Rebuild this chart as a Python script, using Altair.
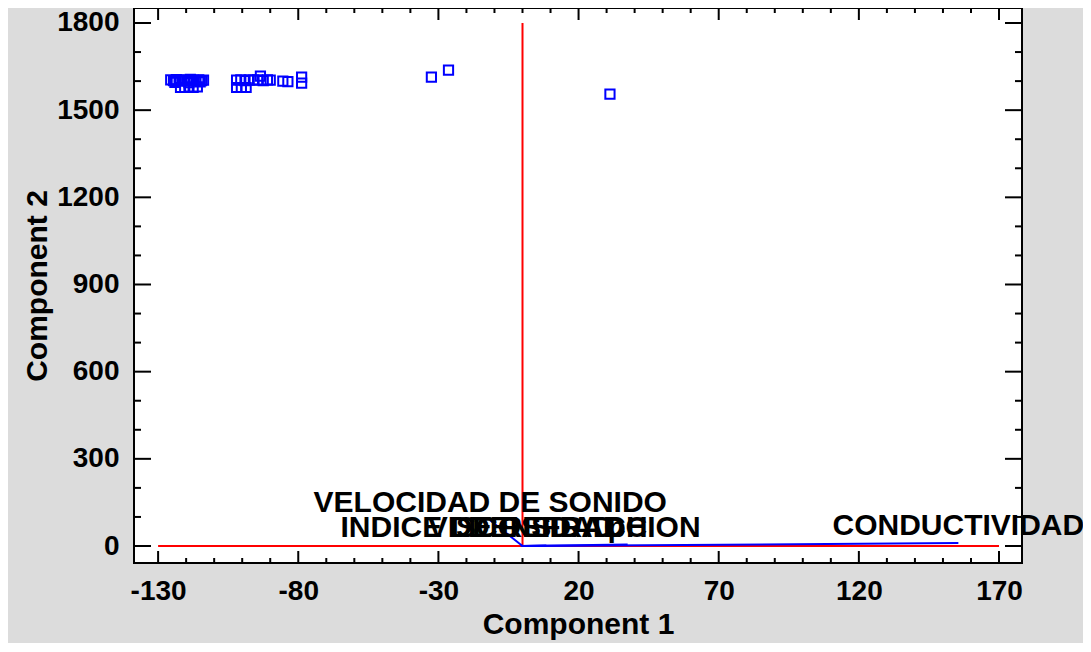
import altair as alt
import pandas as pd

# ---- observation scores (Component 1, Component 2) ----
comp1 = [-125.5, -124.5, -123.5, -122.5, -121.5, -120.5, -119.5, -118.5, -117.5, -116.5, -115.5, -114.5, -113.8,
         -124.0, -119.0, -115.0,
         -122.0, -120.5, -119.0, -117.5, -116.0,
         -102.0, -100.5, -99.0, -97.5, -96.0, -94.5, -92.5, -91.0, -90.0,
         -102.0, -100.3, -98.6,
         -93.5, -85.5, -83.7, -78.8, -78.8,
         -32.5, -26.4, 31.2]
comp2 = [1604, 1602, 1605, 1603, 1600, 1604, 1602, 1606, 1603, 1600, 1604, 1602, 1603,
         1596, 1595, 1597,
         1578, 1578, 1580, 1578, 1580,
         1603, 1604, 1602, 1604, 1603, 1604, 1602, 1604, 1603,
         1578, 1578, 1578,
         1617, 1600, 1598, 1614, 1593,
         1614, 1638, 1555]

# ---- variable loadings (biplot vectors) ----
var_names = ["CONDUCTIVIDAD", "VELOCIDAD DE SONIDO", "INDICE DE REFRACCION", "VISCOSIDAD", "DENSIDAD", "pH"]
var_c1 = [155.5, -11.5, -0.7, -0.5, 8.5, 37.5]
var_c2 = [10, 88, 3, 3, 2, 5]

# ---- reference axes drawn in red ----
ref_x1 = [-130, 0]
ref_y1 = [0, 0]
ref_x2 = [170, 0]
ref_y2 = [0, 1800]

# ---- ticks ----
x_major = [-130, -80, -30, 20, 70, 120, 170]
x_minor = [-120, -110, -100, -90, -70, -60, -50, -40, -20, -10, 0, 10,
           30, 40, 50, 60, 80, 90, 100, 110, 130, 140, 150, 160]
y_major = [0, 300, 600, 900, 1200, 1500, 1800]
y_minor = [100, 200, 400, 500, 700, 800, 1000, 1100, 1300, 1400, 1600, 1700]

W, H = 888, 555
FONT = "Liberation Sans"
LBL = "datum.value < 0 ? '-' + abs(datum.value) : '' + datum.value"
xs = alt.Scale(domain=[-138.6, 178.2], nice=False, zero=False)
ys = alt.Scale(domain=[-58.5, 1851.6], nice=False, zero=False)
xax = alt.Axis(title="Component 1", values=x_major, titlePadding=4, labelPadding=14, labelExpr=LBL)
yax = alt.Axis(title="Component 2", values=y_major, titlePadding=4, labelPadding=15, labelExpr=LBL)

scores = pd.DataFrame({"c1": comp1, "c2": comp2})
loads = pd.DataFrame({"name": var_names, "c1": var_c1, "c2": var_c2,
                      "o1": [0] * len(var_names), "o2": [0] * len(var_names)})
refs = pd.DataFrame({"x1": ref_x1, "y1": ref_y1, "x2": ref_x2, "y2": ref_y2})

points = alt.Chart(scores).mark_point(
    shape="square", filled=False, color="#0000FF", size=85, strokeWidth=2, opacity=1
).encode(
    x=alt.X("c1:Q", scale=xs, axis=xax),
    y=alt.Y("c2:Q", scale=ys, axis=yax),
)

red = alt.Chart(refs).mark_rule(color="#FF0000", strokeWidth=2).encode(
    x=alt.X("x1:Q", scale=xs, axis=xax), y=alt.Y("y1:Q", scale=ys, axis=yax),
    x2="x2:Q", y2="y2:Q",
)

blue = alt.Chart(loads).mark_rule(color="#0000FF", strokeWidth=2).encode(
    x=alt.X("o1:Q", scale=xs, axis=xax), y=alt.Y("o2:Q", scale=ys, axis=yax),
    x2="c1:Q", y2="c2:Q",
)

labels = alt.Chart(loads).mark_text(
    align="center", baseline="bottom", dy=-2, font=FONT, fontSize=30, fontWeight="bold", color="black"
).encode(
    x=alt.X("c1:Q", scale=xs, axis=xax), y=alt.Y("c2:Q", scale=ys, axis=yax), text="name:N",
)


def xticks(vals, length):
    d = pd.DataFrame({"v": vals})
    b = alt.Chart(d).mark_rule(color="black", strokeWidth=2).encode(
        x=alt.X("v:Q", scale=xs, axis=xax), y=alt.value(H), y2=alt.value(H - length))
    t = alt.Chart(d).mark_rule(color="black", strokeWidth=2).encode(
        x=alt.X("v:Q", scale=xs, axis=xax), y=alt.value(0), y2=alt.value(length))
    return [b, t]


def yticks(vals, length):
    d = pd.DataFrame({"v": vals})
    l = alt.Chart(d).mark_rule(color="black", strokeWidth=2).encode(
        y=alt.Y("v:Q", scale=ys, axis=yax), x=alt.value(0), x2=alt.value(length))
    r = alt.Chart(d).mark_rule(color="black", strokeWidth=2).encode(
        y=alt.Y("v:Q", scale=ys, axis=yax), x=alt.value(W), x2=alt.value(W - length))
    return [l, r]


layers = [points, red, blue, labels] + xticks(x_major, 12) + xticks(x_minor, 5) + yticks(y_major, 17) + yticks(y_minor, 7)

chart = alt.layer(*layers).properties(
    width=W, height=H,
    background="#DCDCDC",
    padding={"left": 126, "top": 0, "right": 61, "bottom": 80},
    autosize=alt.AutoSizeParams(type="none"),
).configure_view(
    fill="white", stroke="black", strokeWidth=2
).configure_axis(
    labelFont=FONT, labelFontSize=28, labelFontWeight="bold", labelColor="black",
    titleFont=FONT, titleFontSize=30, titleFontWeight="bold", titleColor="black",
    ticks=False, domain=False, grid=False, labelFlush=False, labelOverlap=False,
)

chart.save("out.html", embed_options={"renderer": "svg", "actions": False})
